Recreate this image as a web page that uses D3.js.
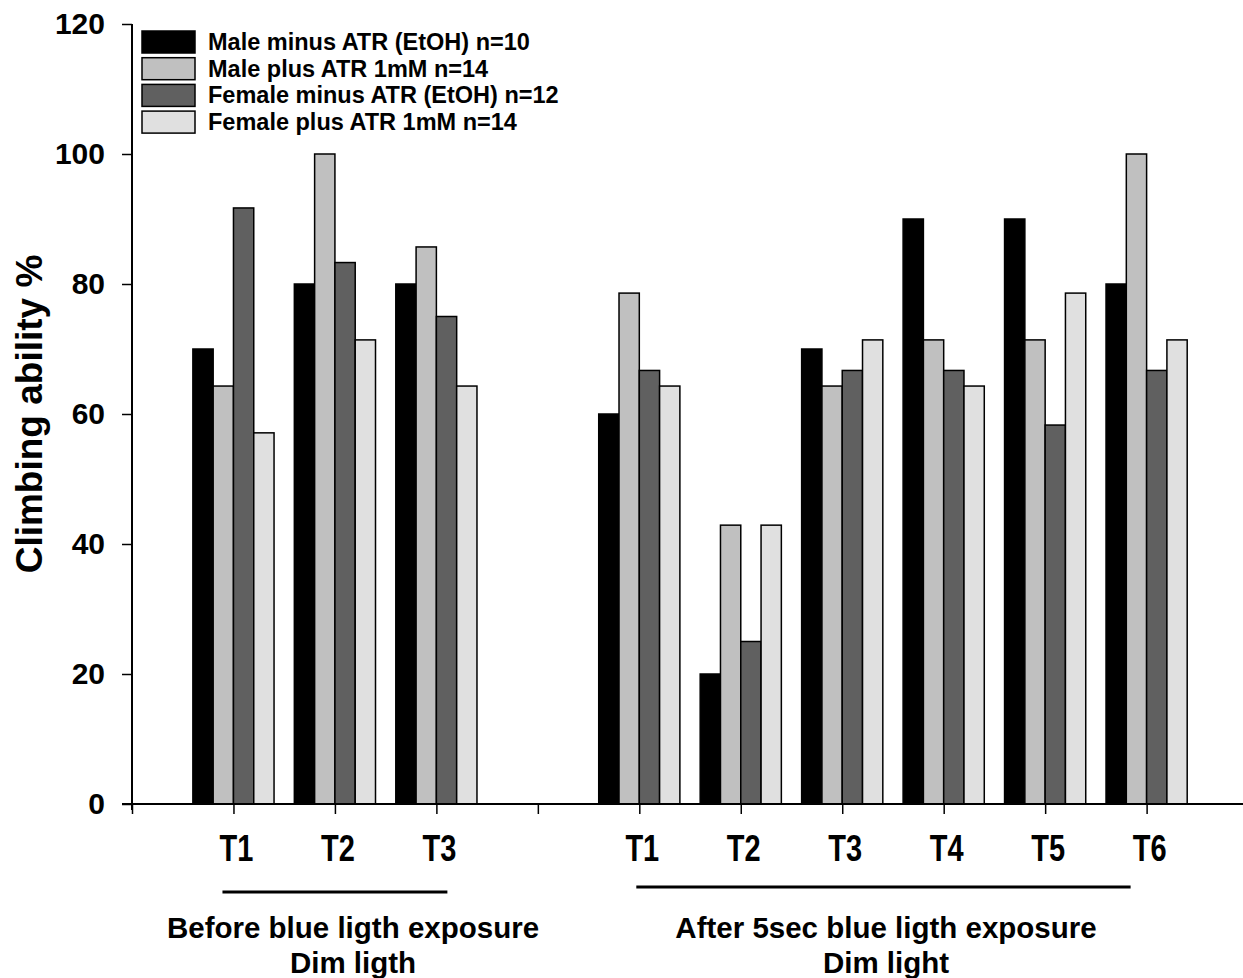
<!DOCTYPE html>
<html>
<head>
<meta charset="utf-8">
<script src="https://cdn.jsdelivr.net/npm/d3@7"></script>
<style>
  body { margin: 0; background: #fff; }
  text { font-family: "Liberation Sans", Arial, sans-serif; font-weight: bold; }
</style>
</head>
<body>
<script>
// categories and their slot on the x axis (slot 4 left empty between the two phases)
var categories = ["T1", "T2", "T3", "T1", "T2", "T3", "T4", "T5", "T6"];
var slots = [1, 2, 3, 5, 6, 7, 8, 9, 10];

var seriesNames = ["Male minus ATR (EtOH) n=10", "Male plus ATR 1mM n=14",
                   "Female minus ATR (EtOH) n=12", "Female plus ATR 1mM n=14"];
var seriesColors = ["#000000", "#c0c0c0", "#606060", "#e0e0e0"];

var maleMinus   = [70, 80, 80, 60, 20, 70, 90, 90, 80];
var malePlus    = [64.3, 100, 85.7, 78.6, 42.9, 64.3, 71.4, 71.4, 100];
var femaleMinus = [91.7, 83.3, 75, 66.7, 25, 66.7, 66.7, 58.3, 66.7];
var femalePlus  = [57.1, 71.4, 64.3, 64.3, 42.9, 71.4, 64.3, 78.6, 71.4];
var series = [maleMinus, malePlus, femaleMinus, femalePlus];

var yTicks = [0, 20, 40, 60, 80, 100, 120];

var W = 1243, H = 978;
var svg = d3.select("body").append("svg").attr("width", W).attr("height", H);

// scales
var x = d3.scaleLinear().domain([0, 10.95]).range([132, 1243]);
var y = d3.scaleLinear().domain([0, 120]).range([804, 24]);
var barW = (x(1) - x(0)) * 0.2;

// bars
series.forEach(function (vals, s) {
    svg.append("g").selectAll("rect")
        .data(vals)
        .enter()
        .append("rect")
        .attr("x", function (d, i) { return x(slots[i]) + (s - 2) * barW; })
        .attr("y", function (d) { return y(d); })
        .attr("width", barW)
        .attr("height", function (d) { return y(0) - y(d); })
        .attr("fill", seriesColors[s])
        .attr("stroke", "#000")
        .attr("stroke-width", 1.5);
});

// y axis
var yAxis = svg.append("g")
    .attr("transform", "translate(132,0)")
    .call(d3.axisLeft(y).tickValues(yTicks).tickSize(10).tickPadding(17));
yAxis.select(".domain").attr("d", "M0," + y(120) + "V" + (y(0) + 6)).attr("stroke-width", 2);
yAxis.selectAll(".tick line").attr("stroke-width", 1.5);
yAxis.selectAll("text").attr("font-size", 30).attr("fill", "#000")
    .attr("font-family", "Liberation Sans, Arial, sans-serif").attr("font-weight", "bold");

// x axis
var xAxis = svg.append("g")
    .attr("transform", "translate(0," + y(0) + ")")
    .call(d3.axisBottom(x).tickValues(d3.range(0, 11)).tickSize(10).tickFormat(""));
xAxis.select(".domain").attr("d", "M122,0H1243").attr("stroke-width", 2);
xAxis.selectAll(".tick line").attr("stroke-width", 1.5);

// category labels
svg.append("g").selectAll("text")
    .data(categories)
    .enter()
    .append("text")
    .attr("transform", function (d, i) { return "translate(" + (x(slots[i]) + 3) + ",861) scale(1,1.3)"; })
    .attr("text-anchor", "middle")
    .attr("font-size", 29)
    .text(function (d) { return d; });

// group underlines and labels
svg.append("line").attr("x1", x(1) - 11).attr("x2", x(3) + 11)
    .attr("y1", 892).attr("y2", 892).attr("stroke", "#000").attr("stroke-width", 3);
svg.append("line").attr("x1", x(5) - 3).attr("x2", x(10) - 16)
    .attr("y1", 887).attr("y2", 887).attr("stroke", "#000").attr("stroke-width", 3);

var groupLabels = [
    { cx: 353, lines: ["Before blue ligth exposure", "Dim ligth"] },
    { cx: 886, lines: ["After 5sec blue ligth exposure", "Dim light"] }
];
groupLabels.forEach(function (g) {
    g.lines.forEach(function (t, k) {
        svg.append("text")
            .attr("x", g.cx).attr("y", 938 + k * 35)
            .attr("text-anchor", "middle")
            .attr("font-size", 29.5)
            .text(t);
    });
});

// y title
svg.append("text")
    .attr("transform", "translate(42,414) rotate(-90)")
    .attr("text-anchor", "middle")
    .attr("font-size", 37)
    .text("Climbing ability %");

// legend
var legend = svg.append("g").attr("transform", "translate(142,31)");
seriesNames.forEach(function (name, i) {
    var row = legend.append("g").attr("transform", "translate(0," + i * 26.7 + ")");
    row.append("rect").attr("width", 53).attr("height", 22)
        .attr("fill", seriesColors[i]).attr("stroke", "#000").attr("stroke-width", 1.5);
    row.append("text").attr("x", 66).attr("y", 19)
        .attr("font-size", 23.5).text(name);
});
</script>
</body>
</html>
